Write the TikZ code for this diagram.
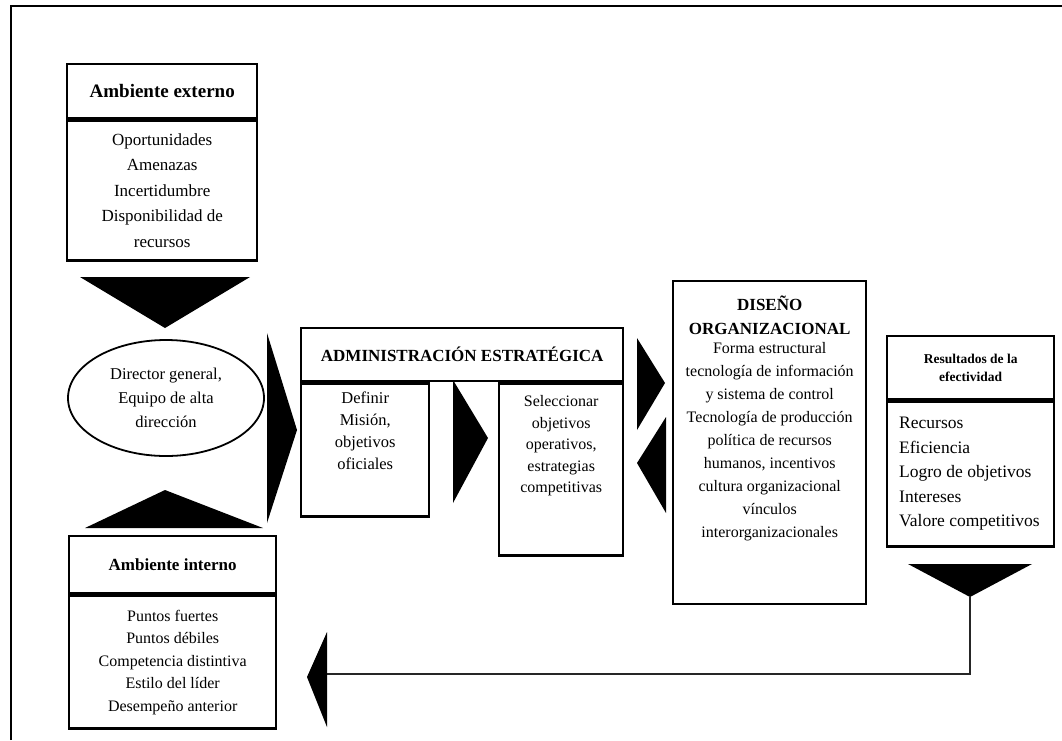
\documentclass[tikz,border=0pt]{standalone}
\usepackage{fontspec}
\setmainfont{Liberation Serif}
\usetikzlibrary{shapes.geometric,positioning}

\begin{document}
\begin{tikzpicture}[x=1pt,y=-1pt]
		\tikzstyle{every node}+=[inner sep=0pt]
		\tikzstyle{caja}=[draw, line width=2.4pt, rectangle]
		\tikzstyle{titulo}=[font=\fontsize{17}{20}\selectfont\bfseries, align=center]
		\tikzstyle{texto}=[font=\fontsize{16.5}{22}\selectfont, align=center]
		\tikzstyle{flecha}=[fill=black]
		\useasboundingbox (0,0) rectangle (1062,740);
		\draw [line width=2.8pt] (11,740) -- (11,6) -- (1062,6);
		% ambiente externo
		\node [caja, minimum width=190, minimum height=54, anchor=north west] (extH) at (66,63) {};
		\node [titulo, font=\fontsize{19}{22}\selectfont\bfseries] at (extH) {Ambiente externo};
		\node [caja, minimum width=190, minimum height=140, below=0pt of extH] (extB) {};
		\begin{scope}
		\clip (extB.south west) rectangle (extB.north east);
		\node [texto, font=\fontsize{17}{25.5}\selectfont, below=14pt of extB.north] (extT) {Oportunidades\\Amenazas\\Incertidumbre\\Disponibilidad de\\recursos};
		\end{scope}
		\fill [flecha] (80,277) -- (250,277) -- (165,328) -- cycle;
		% director
		\node [draw, ellipse, line width=1.8pt, minimum width=196, minimum height=116] (dir) at (166,398) {};
		\node [texto, font=\fontsize{16.5}{24}\selectfont] at (dir) {Director general,\\Equipo de alta\\dirección};
		\fill [flecha] (85,528) -- (263,528) -- (165,490) -- cycle;
		\fill [flecha] (267,333) -- (297,430) -- (267,523) -- cycle;
		% ambiente interno
		\node [caja, minimum width=207, minimum height=57, anchor=north west] (intH) at (68,535) {};
		\node [titulo] at (intH) {Ambiente interno};
		\node [caja, minimum width=207, minimum height=133, below=0pt of intH] (intB) {};
		\node [texto, font=\fontsize{16}{22.5}\selectfont] at (intB) {Puntos fuertes\\Puntos débiles\\Competencia distintiva\\Estilo del líder\\Desempeño anterior};
		% administracion
		\node [caja, minimum width=322, minimum height=53, anchor=north west] (admH) at (300,327) {};
		\node [titulo] at (admH) {ADMINISTRACIÓN ESTRATÉGICA};
		\node [caja, minimum width=128, minimum height=133, anchor=north west] (defB) at (admH.south west) {};
		\node [texto, below=9pt of defB.north] {Definir\\Misión,\\objetivos\\oficiales};
		\node [caja, minimum width=124, minimum height=172, anchor=north east] (selB) at (admH.south east) {};
		\node [texto, font=\fontsize{16}{21.5}\selectfont, below=13pt of selB.north] {Seleccionar\\objetivos\\operativos,\\estrategias\\competitivas};
		\fill [flecha] (453,380) -- (488,438) -- (453,503) -- cycle;
		\fill [flecha] (637,338) -- (665,383) -- (637,430) -- cycle;
		\fill [flecha] (666,417) -- (637,463) -- (666,513) -- cycle;
		% diseno
		\node [caja, minimum width=193, minimum height=323, anchor=north west] (dis) at (672,280) {};
		\node [titulo, font=\fontsize{17}{24}\selectfont\bfseries, below=16pt of dis.north] (disT) {DISEÑO\\ORGANIZACIONAL};
		\node [texto, font=\fontsize{16}{23}\selectfont, below=7pt of disT] {Forma estructural\\tecnología de información\\y sistema de control\\Tecnología de producción\\política de recursos\\humanos, incentivos\\cultura organizacional\\vínculos\\interorganizacionales};
		% resultados
		\node [caja, minimum width=167, minimum height=63, anchor=north west] (resH) at (886,335) {};
		\node [titulo, font=\fontsize{13.5}{18}\selectfont\bfseries] at (resH) {Resultados de la\\efectividad};
		\node [caja, minimum width=167, minimum height=145, below=0pt of resH] (resB) {};
		\node [texto, font=\fontsize{17.5}{24.5}\selectfont, align=left, right=13pt of resB.west] {Recursos\\Eficiencia\\Logro de objetivos\\Intereses\\Valore competitivos};
		\fill [flecha] (908,564) -- (1032,564) -- (970,597) -- cycle;
		% retorno
		\coordinate (vtx) at (970,597);
		\coordinate (ret) at (327,674);
		\draw [line width=2pt, black!85] (vtx) |- (ret);
		\fill [flecha] (327,632) -- (307,677) -- (327,727) -- cycle;
\end{tikzpicture}
\end{document}
